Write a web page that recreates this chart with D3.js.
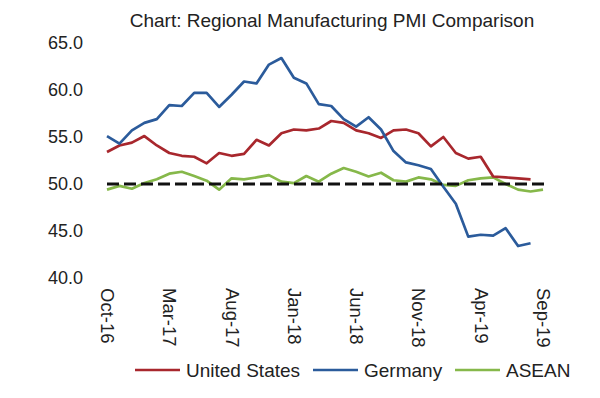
<!DOCTYPE html>
<html>
<head>
<meta charset="utf-8">
<script src="https://cdnjs.cloudflare.com/ajax/libs/d3/7.8.5/d3.min.js"></script>
<style>
body { margin: 0; background: #fff; }
text { font-family: "Liberation Sans", Arial, sans-serif; fill: #222; }
</style>
</head>
<body>
<svg id="chart" width="600" height="398"></svg>
<script>
// monthly categories, Oct-16 .. Sep-19
months = ['Oct-16','Nov-16','Dec-16','Jan-17','Feb-17','Mar-17','Apr-17','May-17','Jun-17',
  'Jul-17','Aug-17','Sep-17','Oct-17','Nov-17','Dec-17','Jan-18','Feb-18','Mar-18','Apr-18',
  'May-18','Jun-18','Jul-18','Aug-18','Sep-18','Oct-18','Nov-18','Dec-18','Jan-19','Feb-19',
  'Mar-19','Apr-19','May-19','Jun-19','Jul-19','Aug-19','Sep-19'];
tickLabels = ['Oct-16','Mar-17','Aug-17','Jan-18','Jun-18','Nov-18','Apr-19','Sep-19'];
yTicks = [40, 45, 50, 55, 60, 65];

usValues = [53.4, 54.1, 54.4, 55.1, 54.1, 53.3, 53.0, 52.9, 52.2, 53.3, 53.0, 53.2,
  54.7, 54.1, 55.4, 55.8, 55.7, 55.9, 56.7, 56.5, 55.7, 55.4, 54.9, 55.7,
  55.8, 55.4, 54.0, 55.0, 53.3, 52.7, 52.9, 50.8, 50.7, 50.6, 50.5];
germanyValues = [55.1, 54.3, 55.7, 56.5, 56.9, 58.4, 58.3, 59.7, 59.7, 58.2, 59.5, 60.9,
  60.7, 62.7, 63.4, 61.3, 60.7, 58.5, 58.3, 56.9, 56.1, 57.1, 55.8, 53.5,
  52.3, 52.0, 51.6, 49.7, 47.9, 44.4, 44.6, 44.5, 45.3, 43.4, 43.7];
aseanValues = [49.4, 49.8, 49.5, 50.1, 50.5, 51.1, 51.3, 50.85, 50.35, 49.4, 50.6, 50.5,
  50.7, 50.95, 50.25, 50.1, 50.85, 50.25, 51.1, 51.7, 51.3, 50.8, 51.2, 50.4,
  50.25, 50.7, 50.5, 49.9, 49.8, 50.4, 50.6, 50.7, 50.0, 49.4, 49.2, 49.4];
threshold = 50;

seriesNames = ['United States', 'Germany', 'ASEAN'];
seriesColors = ['#a8272d', '#2b5b9b', '#86b84a'];

svg = d3.select('#chart');

x = d3.scalePoint().domain(months).range([107, 543]);
y = d3.scaleLinear().domain([40, 65]).range([278, 43]);

// title
svg.append('text')
  .attr('x', 332)
  .attr('y', 27)
  .attr('text-anchor', 'middle')
  .style('font-size', '19px')
  .text('Chart: Regional Manufacturing PMI Comparison');

// y axis labels, no axis line
yAxis = svg.append('g')
  .attr('transform', 'translate(92,0)')
  .call(d3.axisLeft(y).tickValues(yTicks).tickFormat(d3.format('.1f')).tickSize(0).tickPadding(9));
yAxis.select('.domain').remove();
yAxis.selectAll('text')
  .style('font-size', '18px')
  .style('font-family', '"Liberation Sans", Arial, sans-serif')
  .attr('fill', '#222');

// x axis labels, rotated
xAxis = svg.append('g')
  .attr('transform', 'translate(0,286)')
  .call(d3.axisBottom(x).tickValues(tickLabels).tickSize(0).tickPadding(0));
xAxis.select('.domain').remove();
xAxis.selectAll('text')
  .attr('transform', 'rotate(90)')
  .attr('x', 2)
  .attr('y', 0)
  .attr('dy', '0.35em')
  .attr('text-anchor', 'start')
  .style('font-size', '18.5px')
  .style('font-family', '"Liberation Sans", Arial, sans-serif')
  .attr('fill', '#222');

line = d3.line()
  .x(function(d, i) { return x(months[i]); })
  .y(function(d) { return y(d); });

allSeries = [usValues, germanyValues, aseanValues];
drawOrder = [2, 0, 1];
drawOrder.forEach(function(k) {
  svg.append('path')
    .datum(allSeries[k])
    .attr('fill', 'none')
    .attr('stroke', seriesColors[k])
    .attr('stroke-width', 2.7)
    .attr('stroke-linejoin', 'round')
    .attr('d', line);
});

// 50 line
svg.append('line')
  .attr('x1', x(months[0]))
  .attr('x2', x(months[months.length - 1]) + 2)
  .attr('y1', y(threshold))
  .attr('y2', y(threshold))
  .attr('stroke', '#111')
  .attr('stroke-width', 3.2)
  .attr('stroke-dasharray', '12,5');

// legend
legendX = [135, 313, 455];
legend = svg.append('g');
seriesNames.forEach(function(name, k) {
  legend.append('line')
    .attr('x1', legendX[k])
    .attr('x2', legendX[k] + 45)
    .attr('y1', 370)
    .attr('y2', 370)
    .attr('stroke', seriesColors[k])
    .attr('stroke-width', 2.5);
  legend.append('text')
    .attr('x', legendX[k] + 51)
    .attr('y', 370)
    .attr('dy', '0.35em')
    .style('font-size', '19px')
    .text(name);
});
</script>
</body>
</html>
